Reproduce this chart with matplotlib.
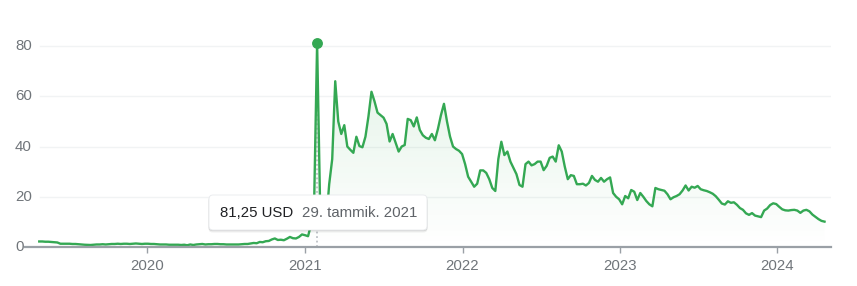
import matplotlib
matplotlib.use('Agg')
import matplotlib.pyplot as plt
import matplotlib.dates as mdates
from matplotlib.patches import FancyBboxPatch
from matplotlib.transforms import IdentityTransform, blended_transform_factory
import numpy as np
import pandas as pd

# weekly closes (USD), one list per calendar year
y2019 = [2.2, 2.2, 2.1, 2.1, 2.0, 1.9, 1.8, 1.3, 1.3, 1.3, 1.3, 1.2, 1.2, 1.1, 1.0,
         0.9, 0.85, 0.8, 0.9, 1.0, 1.0, 1.1, 1.0, 1.1, 1.2, 1.2, 1.3, 1.2, 1.3, 1.3,
         1.2, 1.3, 1.4, 1.3, 1.2, 1.3]
y2020 = [1.3, 1.2, 1.2, 1.1, 1.0, 1.0, 1.0, 0.9, 0.9, 0.9, 0.9, 0.8, 0.9, 0.7, 1.0,
         0.8, 1.0, 1.1, 1.2, 1.0, 1.1, 1.1, 1.2, 1.2, 1.1, 1.1, 1.0, 1.0, 1.0, 1.0,
         1.0, 1.1, 1.2, 1.2, 1.4, 1.6, 1.5, 2.0, 1.9, 2.3, 2.4, 3.0, 3.4, 2.8, 2.9,
         2.7, 3.3, 4.0, 3.5, 3.4, 4.0, 5.0]
y2021 = [4.7, 4.3, 8.9, 16.3, 81.25, 16, 13, 10, 25, 35, 66, 50, 45, 48.5, 40,
         38.7, 37.5, 43.9, 40.2, 39.7, 43.9, 52, 61.8, 58, 53.5, 52.5, 51.5, 49, 42,
         45, 41.5, 38, 40, 40.6, 51, 50.5, 48, 51.6, 46.6, 44.5, 43.5, 43, 45, 42.5,
         47, 52.5, 57, 50, 44, 40, 39, 38.3, 37]
y2022 = [33, 28, 26, 24, 25.2, 30.5, 30.5, 29.5, 27, 23.5, 22.3, 35, 41.9, 36.6,
         38, 34, 31.5, 29, 24.7, 24, 33, 34, 32.5, 33, 34, 34, 30.6, 32.3, 35.5, 36,
         34, 40.5, 38, 32, 27, 28.6, 28.3, 25, 25, 25.2, 24.5, 25.5, 28.3, 26.7, 26,
         27.5, 26, 27, 27.7, 21.5, 20, 19]
y2023 = [17, 20.3, 19.4, 22.7, 22, 18.7, 21.5, 20, 18.3, 17, 16.2, 23.5, 23, 22.7,
         22.4, 21, 19, 19.8, 20.3, 21, 22.5, 24.5, 22.5, 24, 23.6, 24.3, 23, 22.6,
         22.3, 21.8, 21.2, 20.2, 18.8, 17.3, 16.9, 18.2, 17.6, 17.8, 16.8, 15.5, 14.8,
         13.4, 12.8, 13.5, 12.5, 12.2, 11.9, 14.5, 15.3, 16.7, 17.4, 17.1]
y2024 = [16, 15, 14.6, 14.5, 14.7, 14.8, 14.5, 13.6, 14.5, 14.8, 14.2, 12.9, 12,
         11.1, 10.4, 10.1]
starts = ['2019-04-26', '2020-01-03', '2021-01-01', '2022-01-07', '2023-01-06', '2024-01-05']

yticks = [0, 20, 40, 60, 80]
years = [2020, 2021, 2022, 2023, 2024]
fi_months = ['tammik.', 'helmik.', 'maalisk.', 'huhtik.', 'toukok.', 'kesäk.',
             'heinäk.', 'elok.', 'syysk.', 'lokak.', 'marrask.', 'jouluk.']

green = '#34a853'
plt.rcParams['font.family'] = ['Liberation Sans', 'DejaVu Sans']

dates = []
vals = []
for s, arr in zip(starts, [y2019, y2020, y2021, y2022, y2023, y2024]):
    dates += list(pd.date_range(s, periods=len(arr), freq='W-FRI'))
    vals += arr
x = mdates.date2num(dates)
vals = np.array(vals, dtype=float)

W, H = 857, 286
fig = plt.figure(figsize=(W / 100, H / 100), dpi=100)
ax = fig.add_axes([25 / W, 1 - 247 / H, (831 - 25) / W, (247 - 30) / H])
xlim = (mdates.date2num(pd.Timestamp('2019-03-24')), mdates.date2num(pd.Timestamp('2024-05-04')))
ylim = (0, 86.4)

# grid
for t in yticks[1:]:
    ax.axhline(t, xmin=15 / 806, color='#f1f3f4', lw=1, zorder=0)
ax.axhline(0, color='#9aa0a6', lw=1.6, zorder=5, clip_on=False)

# gradient fill under the line
fill = ax.fill_between(x, vals, 0, facecolor='none', edgecolor='none')
grad = np.zeros((256, 1, 4))
grad[..., 0], grad[..., 1], grad[..., 2] = 52 / 255, 168 / 255, 83 / 255
grad[..., 3] = np.linspace(0.13, 0.0, 256)[:, None]
im = ax.imshow(grad, extent=[x[0], x[-1], 0, 70], aspect='auto', origin='upper', zorder=1)
im.set_clip_path(fill.get_paths()[0], transform=ax.transData)

# peak
ip = int(np.argmax(vals))
xp, vp = x[ip], vals[ip]
ax.vlines(xp, 0, vp, colors='#bdc1c6', linestyles=(0, (1, 1.5)), lw=1.3, zorder=2)
ax.plot(x, vals, color=green, lw=1.7, zorder=3, solid_joinstyle='round')
ax.plot([xp], [vp], 'o', ms=6.8, color=green, zorder=4)

ax.set_xlim(*xlim)
ax.set_ylim(*ylim)
for sp in ax.spines.values():
    sp.set_visible(False)

ax.set_yticks([])
trans = blended_transform_factory(ax.transAxes, ax.transData)
for t in yticks:
    ax.text(-10 / 806, t, str(t), transform=trans, ha='left', va='center',
            fontsize=10.8, color='#70757a', zorder=6)

ax.set_xticks([mdates.date2num(pd.Timestamp(f'{y}-01-01')) for y in years])
ax.set_xticklabels([str(y) for y in years])
ax.tick_params(axis='x', length=4.5, width=1, color='#9aa0a6', labelcolor='#70757a',
               labelsize=10.8, pad=4)

# tooltip
pd_date = dates[ip]
tip_price = f"{vp:.2f}".replace('.', ',') + " USD"
tip_date = f"{pd_date.day}. {fi_months[pd_date.month - 1]} {pd_date.year}"
bx, by, bw, bh = 209, H - 230, 218, 35
for off, a in [(2.5, 0.06), (1.2, 0.10)]:
    fig.patches.append(FancyBboxPatch((bx - 0.5, by - off), bw + 1, bh, transform=IdentityTransform(),
                                      boxstyle='round,pad=0,rounding_size=4', fc='black', ec='none',
                                      alpha=a, zorder=9, figure=fig))
fig.patches.append(FancyBboxPatch((bx, by), bw, bh, transform=IdentityTransform(),
                                  boxstyle='round,pad=0,rounding_size=4', fc='white', ec='#e8eaed',
                                  lw=0.6, zorder=10, figure=fig))
fig.text(220 / W, 1 - 213 / H, tip_price, ha='left', va='center', fontsize=10.8,
         color='#202124', zorder=11)
fig.text(302 / W, 1 - 213 / H, tip_date, ha='left', va='center', fontsize=10.8,
         color='#5f6368', zorder=11)

fig.savefig('out.png', dpi=100)
